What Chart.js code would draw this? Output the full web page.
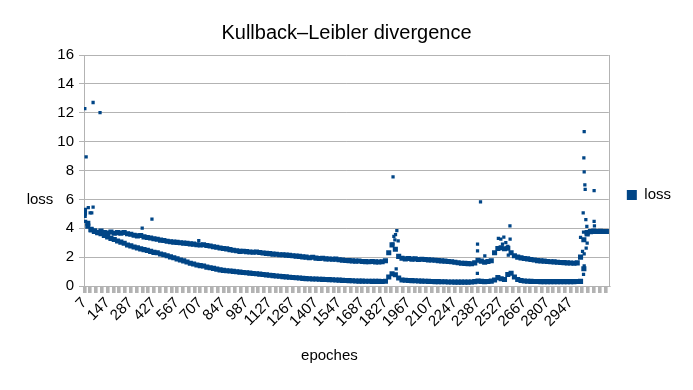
<!DOCTYPE html>
<html>
<head>
<meta charset="utf-8">
<script src="https://cdn.jsdelivr.net/npm/chart.js@4/dist/chart.umd.min.js"></script>
<style>
html,body{margin:0;padding:0;background:#fff;}
#wrap{width:693px;height:390px;}
</style>
</head>
<body>
<div id="wrap"><canvas id="c" width="693" height="390"></canvas></div>
<script>
const chartTitle = 'Kullback\u2013Leibler divergence';
const xTitle = 'epoches';
const yTitle = 'loss';
const seriesName = 'loss';

const xTickLabels = [7,147,287,427,567,707,847,987,1127,1267,1407,1547,1687,1827,1967,2107,2247,2387,2527,2667,2807,2947];
const yTicks = [0,2,4,6,8,10,12,14,16];

const epochs = [7,27,47,67,87,107,127,147,167,187,207,227,247,267,287,307,327,347,367,387,407,427,447,467,487,507,527,547,567,587,607,627,647,667,687,707,727,747,767,787,807,827,847,867,887,907,927,947,967,987,1007,1027,1047,1067,1087,1107,1127,1147,1167,1187,1207,1227,1247,1267,1287,1307,1327,1347,1367,1387,1407,1427,1447,1467,1487,1507,1527,1547,1567,1587,1607,1627,1647,1667,1687,1707,1727,1747,1767,1787,1807,1827,1847,1867,1887,1907,1927,1947,1967,1987,2007,2027,2047,2067,2087,2107,2127,2147,2167,2187,2207,2227,2247,2267,2287,2307,2327,2347,2367,2387,2407,2427,2447,2467,2487,2507,2527,2547,2567,2587,2607,2627,2647,2667,2687,2707,2727,2747,2767,2787,2807,2827,2847,2867,2887,2907,2927,2947,2967,2987,3007,3027,3047,3067,3087,3107,3127,3147,3167];

const upperBand = [5.25,4.35,3.92,3.78,3.72,3.80,3.70,3.66,3.74,3.65,
3.70,3.66,3.71,3.62,3.58,3.52,3.47,3.50,3.40,3.36,
3.33,3.27,3.24,3.18,3.15,3.10,3.07,3.04,3.02,3.00,
2.97,2.95,2.92,2.90,2.86,2.84,2.86,2.80,2.77,2.72,
2.68,2.63,2.60,2.57,2.52,2.48,2.44,2.40,2.41,2.38,
2.36,2.34,2.35,2.32,2.29,2.26,2.24,2.21,2.20,2.17,
2.16,2.14,2.12,2.10,2.07,2.05,2.02,2.00,1.96,1.99,
1.93,1.90,1.92,1.88,1.87,1.85,1.86,1.82,1.79,1.77,
1.76,1.74,1.72,1.73,1.70,1.69,1.68,1.70,1.67,1.66,
1.68,1.75,2.30,2.85,2.55,2.05,1.92,1.88,1.90,1.86,
1.88,1.84,1.85,1.83,1.81,1.80,1.78,1.76,1.74,1.72,
1.70,1.68,1.64,1.61,1.58,1.57,1.55,1.54,1.60,1.78,
1.72,1.65,1.70,1.75,2.30,2.60,2.65,2.58,2.62,2.30,
2.10,2.00,1.95,1.91,1.88,1.84,1.80,1.76,1.74,1.72,
1.70,1.68,1.67,1.65,1.63,1.62,1.60,1.59,1.58,1.60,
2.00,3.20,3.70,3.78,3.80,3.78,3.79,3.78,3.77];

const lowerBand = [5.05,4.15,3.88,3.82,3.70,3.62,3.50,3.40,3.30,3.22,
3.12,3.04,2.96,2.84,2.78,2.70,2.64,2.57,2.52,2.47,
2.40,2.33,2.30,2.22,2.16,2.10,2.02,1.96,1.88,1.80,
1.74,1.66,1.58,1.52,1.46,1.41,1.38,1.31,1.26,1.22,
1.17,1.12,1.08,1.06,1.04,1.01,0.99,0.96,0.94,0.92,
0.89,0.87,0.85,0.82,0.80,0.77,0.74,0.72,0.69,0.67,
0.65,0.63,0.61,0.59,0.57,0.55,0.53,0.51,0.50,0.49,
0.48,0.47,0.46,0.45,0.44,0.43,0.42,0.41,0.39,0.38,
0.37,0.36,0.35,0.34,0.34,0.33,0.33,0.32,0.32,0.32,
0.31,0.33,0.62,0.85,0.78,0.55,0.42,0.40,0.38,0.37,
0.36,0.35,0.34,0.33,0.32,0.31,0.30,0.30,0.29,0.29,
0.28,0.28,0.27,0.27,0.27,0.27,0.27,0.28,0.30,0.34,
0.32,0.30,0.31,0.34,0.42,0.58,0.50,0.45,0.80,0.88,
0.62,0.45,0.38,0.35,0.33,0.32,0.31,0.31,0.30,0.30,
0.30,0.30,0.30,0.30,0.30,0.30,0.30,0.30,0.30,0.31,
0.32,1.20,3.60,3.76,3.78,3.77,3.77,3.78,3.78];

const outlierEpochs = [9,59,101,17,30,59,41,51,8,11,14,356,415,698,1873,1896,1904,1892,1878,1884,1872,1888,2402,2384,2384,2383,2428,2580,2510,2525,2543,2581,2567,2570,2535,2555,3029,3027,3029,3033,3035,3089,3023,3039,3089,3091,3045,3007,3025,3047,3041,3019,3029,3029,3025];
const outlierValues = [12.29,12.71,12.01,8.95,5.43,5.47,5.06,5.06,5.29,4.82,4.47,4.01,4.64,3.15,7.56,3.83,3.13,1.18,3.43,3.2,2.9,3.55,5.82,2.9,2.43,0.88,2.09,4.17,3.3,3.25,3.39,3.25,2.74,2.13,2.9,3.0,10.69,8.88,7.91,7.0,6.7,6.61,5.06,4.59,4.47,4.17,4.13,3.36,3.73,2.97,2.62,2.39,2.23,1.39,0.81];

const bandPoints = [];
epochs.forEach((e, i) => { bandPoints.push({x: e, y: upperBand[i]}); bandPoints.push({x: e, y: lowerBand[i]}); });
const outlierPoints = outlierEpochs.map((e, i) => ({x: e, y: outlierValues[i]}));

const FONT = '"Liberation Sans", Arial, sans-serif';
const GRID = '#b3b3b3';
const SERIES = '#004586';
const labelSet = new Set(xTickLabels);

const decor = {
  id: 'decor',
  afterDraw(chart) {
    const {ctx, chartArea: a} = chart;
    ctx.save();
    ctx.strokeStyle = GRID; ctx.lineWidth = 1;
    const rx = Math.round(a.right) + 0.5;
    ctx.beginPath(); ctx.moveTo(rx, a.top); ctx.lineTo(rx, a.bottom); ctx.stroke();
    ctx.fillStyle = '#000';
    ctx.font = '15px ' + FONT;
    ctx.textAlign = 'center'; ctx.textBaseline = 'middle';
    ctx.fillText(xTitle, (a.left - 34 + a.right) / 2, a.bottom + 70);
    ctx.fillText(yTitle, a.left - 44, (a.top + a.bottom + 58) / 2);
    ctx.restore();
  }
};

new Chart(document.getElementById('c'), {
  type: 'scatter',
  data: {
    datasets: [{
      label: seriesName,
      data: bandPoints,
      backgroundColor: SERIES,
      borderColor: SERIES,
      pointStyle: 'rect',
      pointRadius: 3.6,
      pointBorderWidth: 0,
      showLine: false
    }, {
      label: seriesName,
      data: outlierPoints,
      backgroundColor: SERIES,
      borderColor: SERIES,
      pointStyle: 'rect',
      pointRadius: 2.3,
      pointBorderWidth: 0,
      showLine: false
    }]
  },
  options: {
    responsive: false,
    animation: false,
    events: [],
    layout: { padding: { left: 12, right: 12, top: 12, bottom: 12 } },
    plugins: {
      title: {
        display: true, text: chartTitle, color: '#000',
        font: { family: FONT, size: 20, weight: 'normal' },
        padding: { top: 9, bottom: 10 }
      },
      legend: {
        display: true, position: 'right', align: 'center',
        labels: {
          color: '#000', font: { family: FONT, size: 15 },
          boxWidth: 10, boxHeight: 10, padding: 18,
          filter: (item) => item.datasetIndex === 0
        }
      },
      tooltip: { enabled: false }
    },
    scales: {
      x: {
        type: 'linear', min: 4, max: 3178,
        afterBuildTicks(axis) {
          const t = [];
          for (let v = xTickLabels[0]; v <= 3178; v += 35) t.push({ value: v });
          axis.ticks = t;
        },
        afterFit(scale) { scale.height = 92; },
        grid: { drawOnChartArea: false, drawTicks: true, tickLength: 7, color: GRID, lineWidth: 3.6 },
        border: { display: true, color: GRID, width: 1 },
        ticks: {
          autoSkip: false, minRotation: 45, maxRotation: 45, padding: 1,
          color: '#000', font: { family: FONT, size: 15 },
          callback: (v) => labelSet.has(v) ? String(v) : ''
        }
      },
      y: {
        min: yTicks[0], max: yTicks[yTicks.length - 1],
        afterFit(scale) { scale.width = 72; },
        ticks: { stepSize: 2, color: '#000', padding: 5, font: { family: FONT, size: 15 } },
        grid: { color: GRID, lineWidth: 1, tickLength: 5 },
        border: { display: true, color: GRID, width: 1 }
      }
    }
  },
  plugins: [decor]
});
</script>
</body>
</html>
